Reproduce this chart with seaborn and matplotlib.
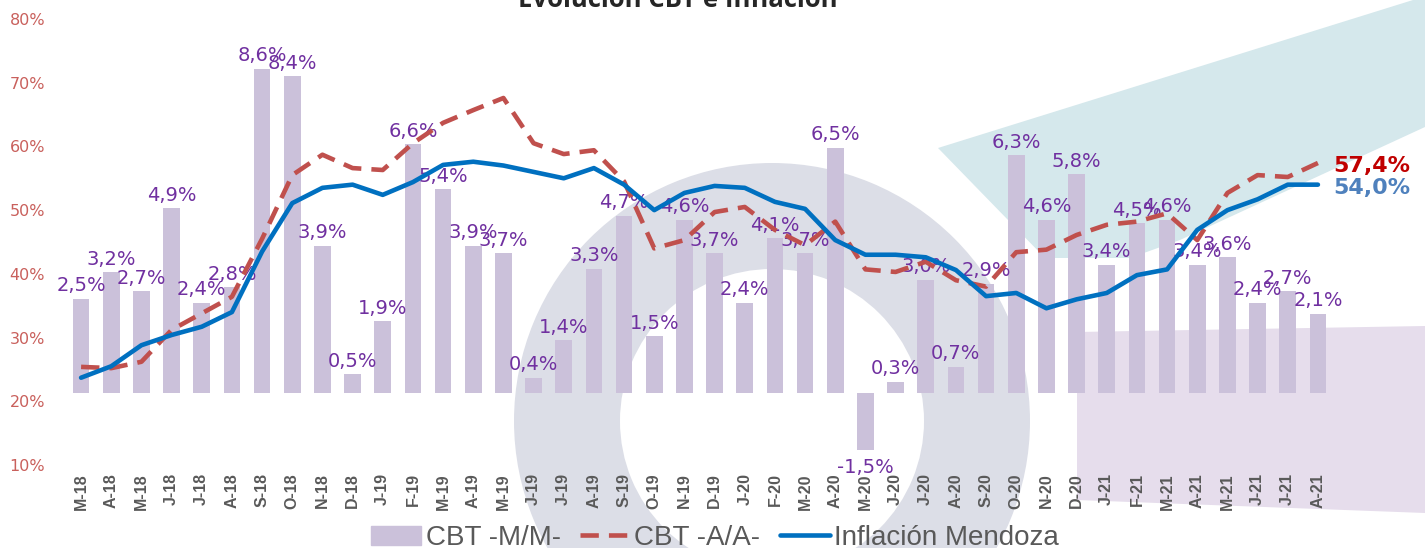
import matplotlib.pyplot as plt
import seaborn as sns
import numpy as np
import pandas as pd
from matplotlib.patches import Wedge, Polygon, Patch
from matplotlib.lines import Line2D

# datos: marzo 2018 a agosto 2021
meses = ['M-18', 'A-18', 'M-18', 'J-18', 'J-18', 'A-18', 'S-18', 'O-18', 'N-18', 'D-18',
         'J-19', 'F-19', 'M-19', 'A-19', 'M-19', 'J-19', 'J-19', 'A-19', 'S-19', 'O-19', 'N-19', 'D-19',
         'J-20', 'F-20', 'M-20', 'A-20', 'M-20', 'J-20', 'J-20', 'A-20', 'S-20', 'O-20', 'N-20', 'D-20',
         'J-21', 'F-21', 'M-21', 'A-21', 'M-21', 'J-21', 'J-21', 'A-21']
cbt_mm = [2.5, 3.2, 2.7, 4.9, 2.4, 2.8, 8.6, 8.4, 3.9, 0.5, 1.9, 6.6, 5.4, 3.9, 3.7, 0.4, 1.4, 3.3,
          4.7, 1.5, 4.6, 3.7, 2.4, 4.1, 3.7, 6.5, -1.5, 0.3, 3.0, 0.7, 2.9, 6.3, 4.6, 5.8, 3.4, 4.5,
          4.6, 3.4, 3.6, 2.4, 2.7, 2.1]
cbt_aa = [25.4, 25.2, 26.2, 31.2, 33.8, 36.4, 45.5, 55.5, 58.7, 56.6, 56.3, 60.5, 63.7, 65.7, 67.6,
          60.5, 58.8, 59.4, 54.5, 44.0, 45.3, 49.7, 50.5, 46.9, 44.5, 48.2, 40.7, 40.3, 41.9, 39.0,
          38.0, 43.4, 43.8, 46.1, 47.7, 48.2, 49.5, 45.3, 52.7, 55.5, 55.2, 57.4]
inflacion = [23.7, 25.5, 28.8, 30.4, 31.7, 34.0, 43.5, 51.1, 53.5, 54.0, 52.4, 54.4, 57.1, 57.6, 57.0,
             56.0, 55.0, 56.6, 54.0, 50.0, 52.7, 53.8, 53.5, 51.3, 50.2, 45.3, 43.0, 43.0, 42.6, 40.6,
             36.5, 37.0, 34.6, 36.0, 37.0, 39.8, 40.7, 46.9, 50.0, 51.7, 54.0, 54.0]

idx = np.arange(len(meses))
df = pd.DataFrame({'pos': idx, 'mes': meses, 'mm': cbt_mm, 'aa': cbt_aa, 'inf': inflacion})

sns.set_theme(style='white')
plt.rcParams['font.family'] = ['DejaVu Sans']

W, H = 1425, 548
fig = plt.figure(figsize=(W / 100, H / 100), dpi=100)
fig.patch.set_facecolor('white')

# fondo decorativo (en pixeles)
bg = fig.add_axes([0, 0, 1, 1], zorder=-2)
bg.set_xlim(0, W)
bg.set_ylim(H, 0)
bg.axis('off')
bg.add_patch(Wedge((772, 421), 258, 0, 360, width=106, color='#dcdee7', lw=0))
bg.add_patch(Polygon([(938, 148), (1413, 0), (1425, 0), (1425, 127), (1180, 240), (1130, 258), (1045, 258)],
                     color='#d5e8ec', lw=0))
bg.add_patch(Polygon([(1077, 332), (1425, 326), (1425, 513), (1077, 500)], color='#e6ddec', lw=0))

ax = fig.add_axes([66 / W, (H - 465) / H, (1333 - 66) / W, (465 - 19) / H])
ax.set_facecolor('none')

# barras CBT M/M
sns.barplot(data=df, x='pos', y='mm', color='#cbc1da', width=0.55, saturation=1, ax=ax,
            linewidth=0, edgecolor='none')
ax.set_ylim(-1.91, 9.92)
ax.set_yticks([])
ax.set_ylabel('')
ax.set_xlabel('')
for i, v in enumerate(cbt_mm):
    txt = f'{v:.1f}'.replace('.', ',') + '%'
    if v >= 0:
        ax.annotate(txt, (i, v), xytext=(0, 2.5), textcoords='offset points',
                    ha='center', va='bottom', color='#7030a0', fontsize=14)
    else:
        ax.annotate(txt, (i, v), xytext=(0, -6), textcoords='offset points',
                    ha='center', va='top', color='#7030a0', fontsize=14)

# lineas
ax2 = ax.twinx()
sns.lineplot(data=df, x='pos', y='aa', ax=ax2, color='#c0504d', lw=3.3, linestyle=(0, (4, 2.2)))
sns.lineplot(data=df, x='pos', y='inf', ax=ax2, color='#0070c0', lw=3.3)
ax2.set_ylim(10, 80)
ax2.set_yticks(range(10, 81, 10))
ax2.set_yticklabels([f'{t}%' for t in range(10, 81, 10)])
ax2.yaxis.tick_left()
ax2.tick_params(axis='y', length=0, pad=15, labelsize=11.5, labelcolor='#c9605c')
ax2.set_ylabel('')
ax2.set_xlabel('')

ax2.annotate('57,4%', (41, cbt_aa[-1]), xytext=(11, -6.5), textcoords='offset points',
             ha='left', va='baseline', color='#c00000', fontsize=16, fontweight='bold',
             annotation_clip=False)
ax2.annotate('54,0%', (41, inflacion[-1]), xytext=(11, -6.5), textcoords='offset points',
             ha='left', va='baseline', color='#4f81bd', fontsize=16, fontweight='bold',
             annotation_clip=False)

ax.set_xlim(-0.5, len(meses) - 0.5)
ax.set_xticks(idx)
ax.set_xticklabels(meses, rotation=90, fontweight='bold', color='#595959', fontsize=11.5,
                   family='Liberation Sans')
ax.tick_params(axis='x', length=0, pad=6)
for a in (ax, ax2):
    for s in a.spines.values():
        s.set_visible(False)

handles = [Patch(color='#cbc1da'),
           Line2D([], [], color='#c0504d', lw=3.3, linestyle=(0, (4, 2.2))),
           Line2D([], [], color='#0070c0', lw=3.3)]
fig.legend(handles, ['CBT -M/M-', 'CBT -A/A-', 'Inflación Mendoza'], loc='center',
           bbox_to_anchor=(715 / W, 1 - 538 / H), ncol=3, frameon=False,
           prop={'family': 'Liberation Sans', 'size': 20}, labelcolor='#595959',
           handlelength=1.8, handletextpad=0.15, columnspacing=0.7)

fig.text(678 / W, 1 - 7 / H, 'Evolución CBT e Inflación', ha='center', va='baseline',
         fontsize=18.5, fontweight='bold', family='Open Sans')

fig.savefig('out.png', dpi=100)
